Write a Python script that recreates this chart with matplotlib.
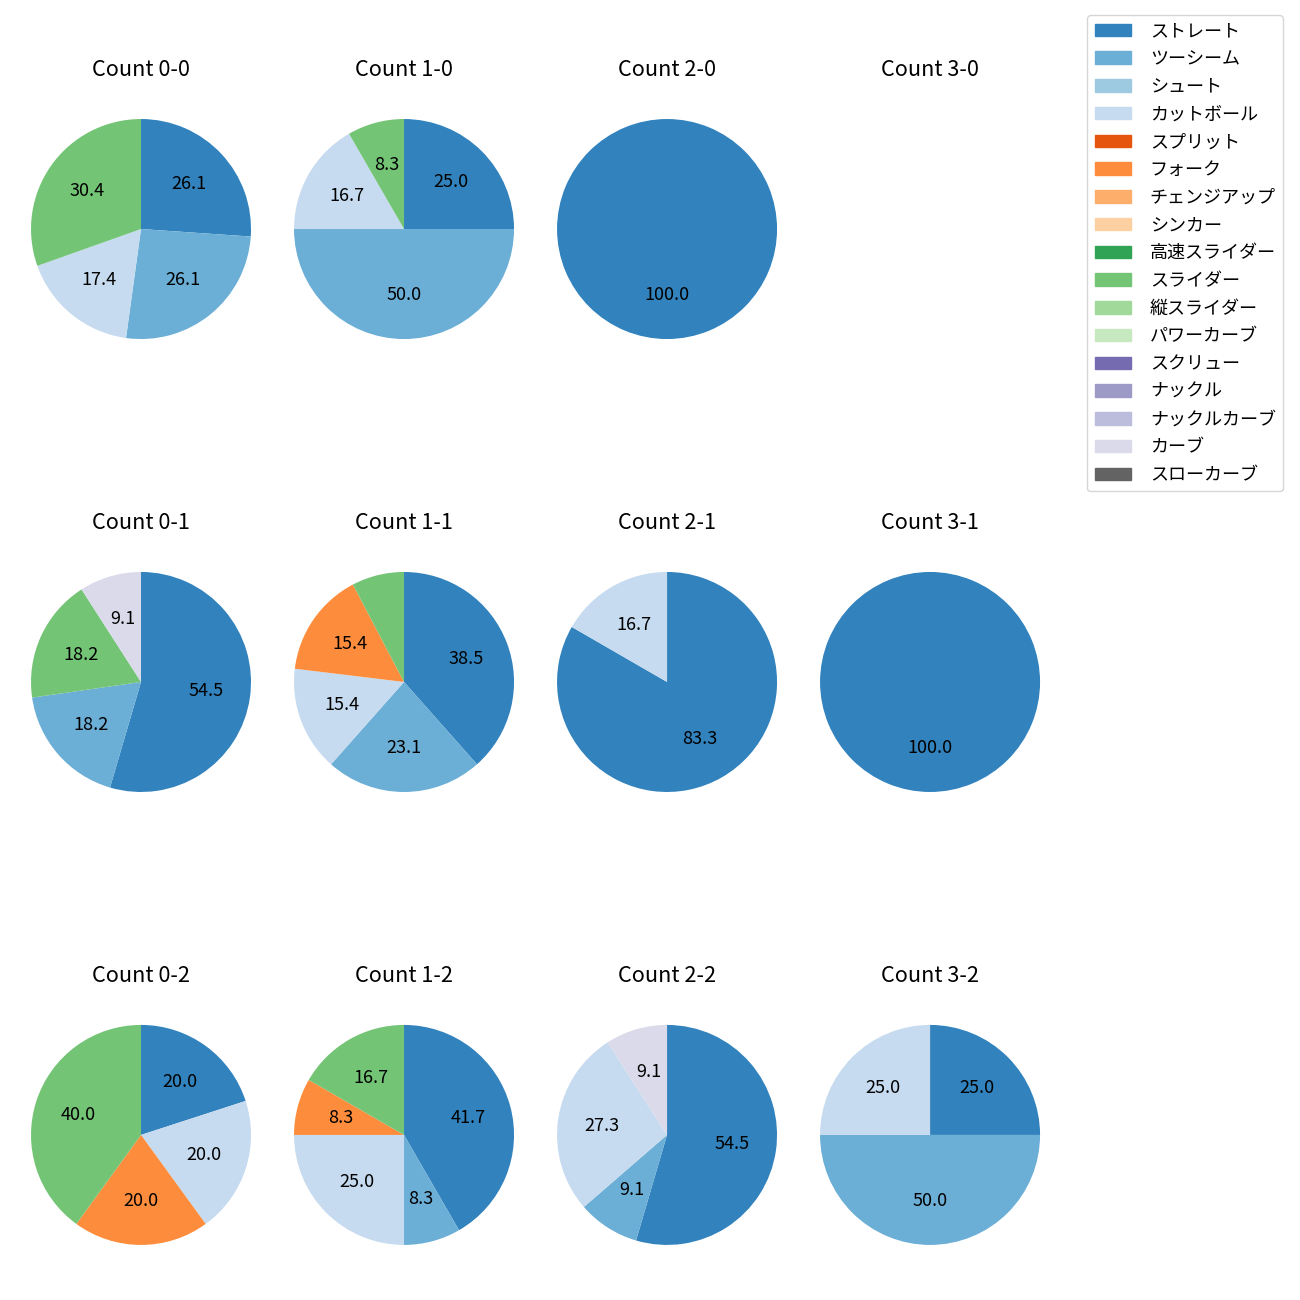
import matplotlib
matplotlib.use("Agg")
import matplotlib.pyplot as plt
from matplotlib.patches import Patch

plt.rcParams["font.family"] = ["Noto Sans CJK JP", "DejaVu Sans"]
plt.rcParams["font.size"] = 13

# pitch types in legend order
pitch_types = [
    "ストレート", "ツーシーム", "シュート", "カットボール", "スプリット", "フォーク",
    "チェンジアップ", "シンカー", "高速スライダー", "スライダー", "縦スライダー",
    "パワーカーブ", "スクリュー", "ナックル", "ナックルカーブ", "カーブ", "スローカーブ",
]

counts = ["0-0", "1-0", "2-0", "3-0",
          "0-1", "1-1", "2-1", "3-1",
          "0-2", "1-2", "2-2", "3-2"]

# number of pitches per count (same order as counts)
straight = [6, 3, 1, 0, 6, 5, 5, 1, 1, 5, 6, 1]
two_seam = [6, 6, 0, 0, 2, 3, 0, 0, 0, 1, 1, 2]
cutter = [4, 2, 0, 0, 0, 2, 1, 0, 1, 3, 3, 1]
fork = [0, 0, 0, 0, 0, 2, 0, 0, 1, 1, 0, 0]
slider = [7, 1, 0, 0, 2, 1, 0, 0, 2, 2, 0, 0]
curve = [0, 0, 0, 0, 1, 0, 0, 0, 0, 0, 1, 0]

series = {
    "ストレート": straight,
    "ツーシーム": two_seam,
    "カットボール": cutter,
    "フォーク": fork,
    "スライダー": slider,
    "カーブ": curve,
}

cmap_colors = plt.get_cmap("tab20c").colors
colors = {p: cmap_colors[i] for i, p in enumerate(pitch_types)}

fig, axes = plt.subplots(3, 4, figsize=(13, 13))
fig.subplots_adjust(left=0.0027, right=0.8212, top=0.9296, bottom=0.0212,
                    wspace=-0.0436, hspace=0.647)

for k, (ax, cnt) in enumerate(zip(axes.flat, counts)):
    vals, cols = [], []
    for p in pitch_types:
        if p in series and series[p][k] > 0:
            vals.append(series[p][k])
            cols.append(colors[p])
    if vals:
        ax.pie(vals, colors=cols, startangle=90, counterclock=False,
               autopct=lambda v: f"{v:.1f}" if v >= 8 else "")
    else:
        ax.set_xlim(-1.25, 1.25)
        ax.set_ylim(-1.25, 1.25)
        ax.set_aspect("equal")
        ax.axis("off")
    ax.set_title(f"Count {cnt}", pad=11)

handles = [Patch(color=colors[p], label=p) for p in pitch_types]
fig.legend(handles=handles, loc="upper right", borderaxespad=0,
           bbox_to_anchor=(1283 / 1300, 1 - 15 / 1300),
           labelspacing=0.54, handletextpad=1.05)

fig.savefig("out.png", dpi=100)
